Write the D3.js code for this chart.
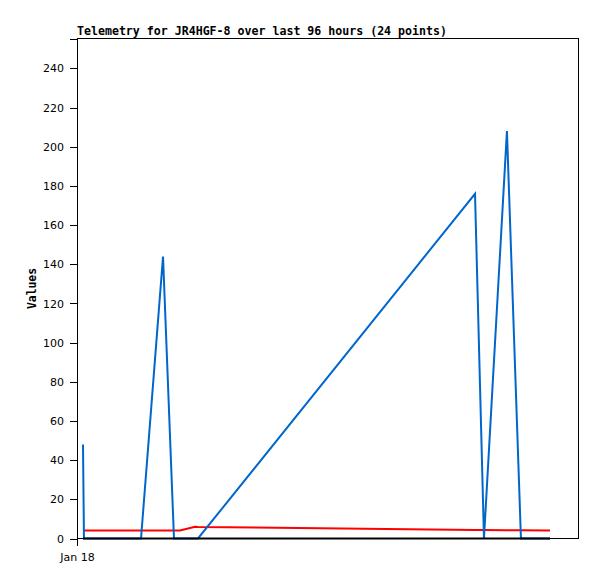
<!DOCTYPE html>
<html>
<head>
<meta charset="utf-8">
<script src="https://cdn.jsdelivr.net/npm/d3@7"></script>
<style>
  html, body { margin: 0; padding: 0; background: #fff; }
  svg { display: block; }
</style>
</head>
<body>
<script>
// ---- Data ----
const titleText = "Telemetry for JR4HGF-8 over last 96 hours (24 points)";
const yLabel = "Values";
const times = [
  "2024-01-18T01:09", "2024-01-18T01:20", "2024-01-18T12:16", "2024-01-18T16:29",
  "2024-01-18T18:35", "2024-01-18T19:44", "2024-01-18T22:37", "2024-01-18T23:11",
  "2024-01-21T04:16", "2024-01-21T05:59", "2024-01-21T10:23", "2024-01-21T13:04",
  "2024-01-21T18:38"
];
const blueValues  = [48, 0, 0, 144, 0, 0, 0, 0, 176, 0, 208, 0, 0];
const redValues   = [4.1, 4.1, 4.1, 4.1, 4.1, 4.1, 6.0, 5.9, 4.4, 4.3, 4.2, 4.2, 4.1];
const blackValues = [0, 0, 0, 0, 0, 0, 0, 0, 0, 0, 0, 0, 0];
const yTicks = [0, 20, 40, 60, 80, 100, 120, 140, 160, 180, 200, 220, 240];
const xDomain = ["2024-01-18T00:00", "2024-01-22T00:00"];
const xTickLabels = ["Jan 18"];

// ---- Layout ----
const W = 597, H = 579;
const mLeft = 77, mRight = 578, mTop = 38.5, mBottom = 538.5;

const parse = d3.utcParse("%Y-%m-%dT%H:%M");
const dates = times.map(parse);

const svg = d3.select("body").append("svg")
  .attr("width", W).attr("height", H)
  .style("font-family", "'DejaVu Sans', sans-serif");

const x = d3.scaleUtc().domain(xDomain.map(parse)).range([mLeft, mRight]);
const y = d3.scaleLinear().domain([0, 255.3]).range([mBottom, mTop]);

// frame
svg.append("rect")
  .attr("x", mLeft).attr("y", mTop)
  .attr("width", mRight - mLeft).attr("height", mBottom - mTop)
  .attr("fill", "none").attr("stroke", "#000").attr("stroke-width", 1)
  .attr("shape-rendering", "crispEdges");

// title
svg.append("text")
  .attr("x", mLeft).attr("y", 35)
  .attr("font-family", "'DejaVu Sans Mono', 'Liberation Mono', monospace")
  .attr("font-weight", "bold").attr("font-size", 11.6)
  .text(titleText);

// y axis
const yAxis = d3.axisLeft(y).tickValues(yTicks).tickSize(7).tickPadding(6).tickFormat(d3.format("d"));
const gy = svg.append("g").attr("transform", `translate(${mLeft},0)`).call(yAxis);
gy.select(".domain").attr("stroke", "#000").attr("shape-rendering", "crispEdges");
gy.selectAll(".tick line").attr("stroke", "#000").attr("shape-rendering", "crispEdges");
gy.selectAll(".tick text").attr("font-size", 11).attr("fill", "#000")
  .attr("font-family", "'DejaVu Sans', sans-serif");

// x axis
const xAxis = d3.axisBottom(x)
  .tickValues([parse(xDomain[0])])
  .tickSize(7).tickPadding(8)
  .tickFormat((d, i) => xTickLabels[i]);
const gx = svg.append("g").attr("transform", `translate(0,${mBottom})`).call(xAxis);
gx.select(".domain").remove();
gx.selectAll(".tick line").attr("stroke", "#000").attr("shape-rendering", "crispEdges");
gx.selectAll(".tick text").attr("font-size", 11).attr("fill", "#000")
  .attr("font-family", "'DejaVu Sans', sans-serif");

// y label
svg.append("text")
  .attr("transform", `translate(36,${(mTop + mBottom) / 2}) rotate(-90)`)
  .attr("text-anchor", "middle")
  .attr("font-family", "'DejaVu Sans Mono', 'Liberation Mono', monospace")
  .attr("font-weight", "bold").attr("font-size", 11.4)
  .text(yLabel);

// series
const line = d3.line().x((d, i) => x(dates[i])).y(d => y(d));
function drawSeries(vals, color) {
  svg.append("path")
    .datum(vals)
    .attr("d", line)
    .attr("fill", "none")
    .attr("stroke", color)
    .attr("stroke-width", 2)
    .attr("stroke-linejoin", "miter");
}
drawSeries(redValues, "#ff0000");
drawSeries(blueValues, "#0066cc");
drawSeries(blackValues, "#000000");
</script>
</body>
</html>
